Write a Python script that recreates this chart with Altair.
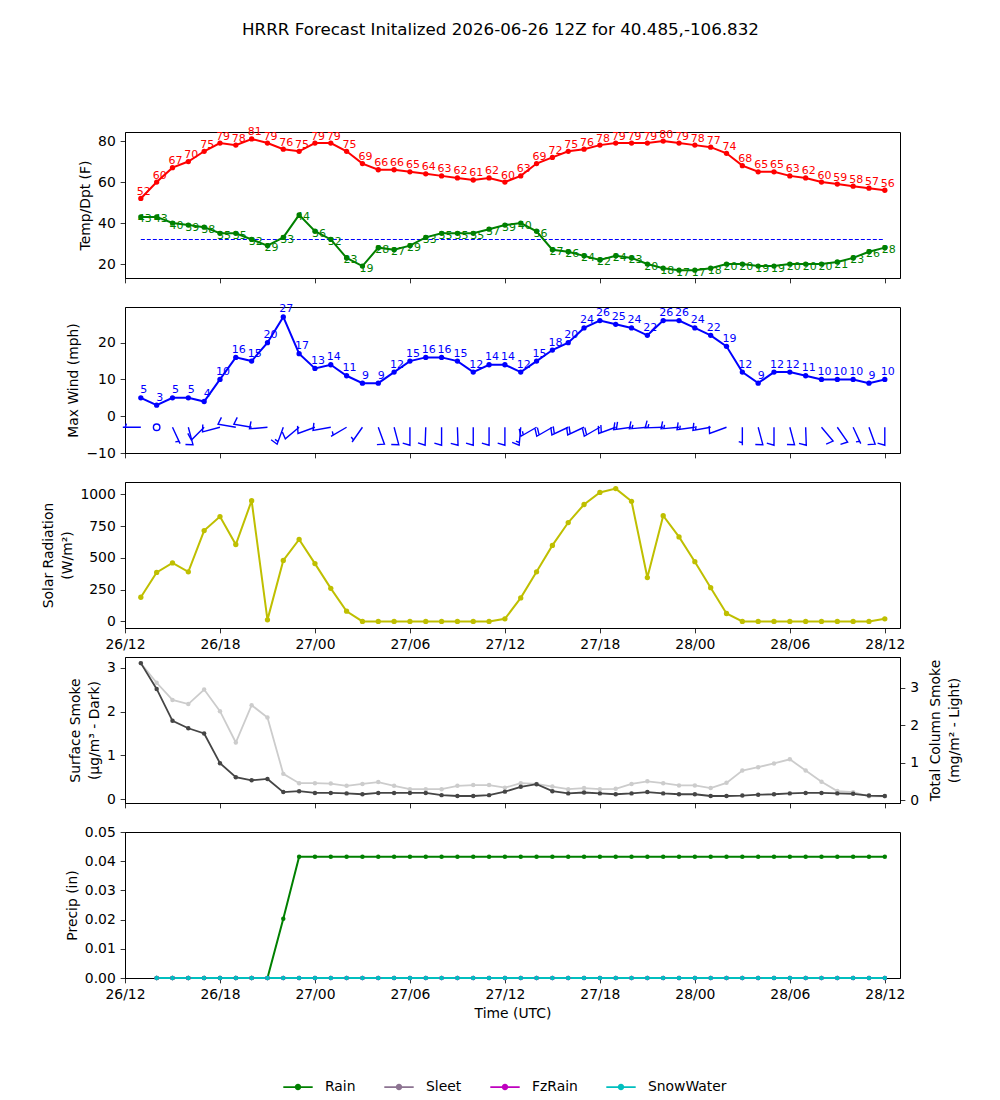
import altair as alt
import pandas as pd

TITLE = "HRRR Forecast Initalized 2026-06-26 12Z for 40.485,-106.832"
FONT = "DejaVu Sans"

# forecast hours after the 26/12 UTC initialisation
hours = list(range(1, 49))
tick_hours = [0, 6, 12, 18, 24, 30, 36, 42, 48]
tick_labels = ["26/12", "26/18", "27/00", "27/06", "27/12", "27/18", "28/00", "28/06", "28/12"]

temp_f = [52, 60, 67, 70, 75, 79, 78, 81, 79, 76, 75, 79, 79, 75, 69, 66, 66, 65, 64, 63, 62, 61, 62, 60,
          63, 69, 72, 75, 76, 78, 79, 79, 79, 80, 79, 78, 77, 74, 68, 65, 65, 63, 62, 60, 59, 58, 57, 56]
dewpt_f = [43, 43, 40, 39, 38, 35, 35, 32, 29, 33, 44, 36, 32, 23, 19, 28, 27, 29, 33, 35, 35, 35, 37, 39,
           40, 36, 27, 26, 24, 22, 24, 23, 20, 18, 17, 17, 18, 20, 20, 19, 19, 20, 20, 20, 21, 23, 26, 28]
FREEZING_F = 32

max_wind_mph = [5, 3, 5, 5, 4, 10, 16, 15, 20, 27, 17, 13, 14, 11, 9, 9, 12, 15, 16, 16, 15, 12, 14, 14,
                12, 15, 18, 20, 24, 26, 25, 24, 22, 26, 26, 24, 22, 19, 12, 9, 12, 12, 11, 10, 10, 10, 9, 10]
# wind barbs: direction the wind blows from (deg) and barb speed (kt)
barb_dir_deg = [270, 0, 155, 165, 225, 255, 280, 280, 265, 200, 230, 250, 260, 240, 215, 160, 165, 180, 182, 180,
                178, 180, 180, 180, 185, 240, 240, 245, 245, 240, 250, 262, 265, 268, 265, 262, 260, 250, 180, 165,
                180, 165, 178, 140, 145, 155, 160, 180]
barb_speed_kt = [5, 0, 5, 10, 10, 10, 10, 10, 10, 15, 10, 10, 10, 5, 5, 10, 10, 10, 10, 10, 10, 10, 10, 10,
                 15, 15, 20, 20, 20, 20, 20, 20, 15, 15, 15, 15, 15, 10, 5, 10, 10, 10, 10, 10, 10, 5, 10, 10]
BARB_ROW = -3

solar_wm2 = [190, 385, 460, 390, 715, 825, 605, 950, 12, 480, 645, 455, 260, 80, 0, 0, 0, 0, 0, 0, 0, 0, 0, 20,
             185, 390, 598, 778, 920, 1015, 1045, 945, 345, 832, 665, 470, 265, 62, 0, 0, 0, 0, 0, 0, 0, 0, 0, 20]

smoke_surface = [3.11, 2.52, 1.79, 1.62, 1.50, 0.82, 0.50, 0.43, 0.46, 0.16, 0.18, 0.14, 0.14, 0.13, 0.11, 0.14,
                 0.14, 0.14, 0.14, 0.09, 0.07, 0.07, 0.09, 0.17, 0.28, 0.34, 0.18, 0.13, 0.15, 0.13, 0.11, 0.13,
                 0.16, 0.13, 0.11, 0.11, 0.07, 0.07, 0.08, 0.10, 0.11, 0.13, 0.14, 0.14, 0.13, 0.12, 0.08, 0.07]
smoke_column = [3.66, 3.14, 2.68, 2.57, 2.96, 2.38, 1.54, 2.54, 2.21, 0.70, 0.45, 0.45, 0.44, 0.38, 0.43, 0.48,
                0.38, 0.29, 0.29, 0.29, 0.38, 0.40, 0.40, 0.33, 0.45, 0.43, 0.36, 0.29, 0.32, 0.29, 0.30, 0.43,
                0.50, 0.45, 0.39, 0.39, 0.32, 0.46, 0.79, 0.88, 0.98, 1.09, 0.79, 0.49, 0.24, 0.21, 0.10, 0.10]

precip_hours = list(range(2, 49))
rain_in = [0, 0, 0, 0, 0, 0, 0, 0, 0.0203,
           0.0415, 0.0415, 0.0415, 0.0415, 0.0415, 0.0415, 0.0415, 0.0415, 0.0415, 0.0415,
           0.0415, 0.0415, 0.0415, 0.0415, 0.0415, 0.0415, 0.0415, 0.0415, 0.0415, 0.0415,
           0.0415, 0.0415, 0.0415, 0.0415, 0.0415, 0.0415, 0.0415, 0.0415, 0.0415, 0.0415,
           0.0415, 0.0415, 0.0415, 0.0415, 0.0415, 0.0415, 0.0415, 0.0415]
sleet_in = [0, 0, 0, 0, 0, 0, 0, 0, 0, 0, 0, 0, 0, 0, 0, 0, 0, 0, 0, 0, 0, 0, 0, 0,
            0, 0, 0, 0, 0, 0, 0, 0, 0, 0, 0, 0, 0, 0, 0, 0, 0, 0, 0, 0, 0, 0, 0]
fzrain_in = [0, 0, 0, 0, 0, 0, 0, 0, 0, 0, 0, 0, 0, 0, 0, 0, 0, 0, 0, 0, 0, 0, 0, 0,
             0, 0, 0, 0, 0, 0, 0, 0, 0, 0, 0, 0, 0, 0, 0, 0, 0, 0, 0, 0, 0, 0, 0]
snowwater_in = [0, 0, 0, 0, 0, 0, 0, 0, 0, 0, 0, 0, 0, 0, 0, 0, 0, 0, 0, 0, 0, 0, 0, 0,
                0, 0, 0, 0, 0, 0, 0, 0, 0, 0, 0, 0, 0, 0, 0, 0, 0, 0, 0, 0, 0, 0, 0]
precip_types = ["Rain", "Sleet", "FzRain", "SnowWater"]
precip_colors = ["#008000", "#8c7391", "#bf00bf", "#00bfbf"]

# ---------------------------------------------------------------- layout
W, H = 775, 146
X_DOMAIN = [0, 48.96]
LABEL_EXPR = "[" + ",".join("'%s'" % t for t in tick_labels) + "][round(datum.value / 6)]"


def x_enc(show_labels=False, title=None):
    return alt.X(
        "hour:Q",
        scale=alt.Scale(domain=X_DOMAIN, nice=False, zero=False),
        axis=alt.Axis(values=tick_hours, labelExpr=LABEL_EXPR, labels=show_labels,
                      labelFlush=False, labelOverlap=False, title=title),
    )


def y_enc(field, domain, values, title, fmt="d", orient="left"):
    axis_kw = dict(values=values, title=title, orient=orient, format=fmt)
    if orient == "right":
        axis_kw["titleAngle"] = 270
    return alt.Y(field, type="quantitative",
                 scale=alt.Scale(domain=domain, nice=False, zero=False),
                 axis=alt.Axis(**axis_kw))


# ---------------------------------------------------------------- temperature
df_t = pd.DataFrame({"hour": hours, "temp": temp_f, "dewpt": dewpt_f})
df_t["freezing"] = FREEZING_F
T_DOM = [13.2, 84.4]
T_VALS = [20, 40, 60, 80]
T_TITLE = "Temp/Dpt (F)"
xt = x_enc()
bt = alt.Chart(df_t)
temp_panel = alt.layer(
    bt.mark_line(color="#0000ff", strokeWidth=1.1, strokeDash=[4, 2]).encode(
        x=xt, y=y_enc("freezing", T_DOM, T_VALS, T_TITLE)),
    bt.mark_line(color="red", strokeWidth=2).encode(x=xt, y=y_enc("temp", T_DOM, T_VALS, T_TITLE)),
    bt.mark_point(color="red", filled=True, size=28, opacity=1).encode(
        x=xt, y=y_enc("temp", T_DOM, T_VALS, T_TITLE)),
    bt.mark_text(color="red", fontSize=11, dx=3, dy=-6.5).encode(
        x=xt, y=y_enc("temp", T_DOM, T_VALS, T_TITLE), text=alt.Text("temp:Q", format="d")),
    bt.mark_line(color="green", strokeWidth=2).encode(x=xt, y=y_enc("dewpt", T_DOM, T_VALS, T_TITLE)),
    bt.mark_point(color="green", filled=True, size=28, opacity=1).encode(
        x=xt, y=y_enc("dewpt", T_DOM, T_VALS, T_TITLE)),
    bt.mark_text(color="green", fontSize=11, dx=4, dy=2.5).encode(
        x=xt, y=y_enc("dewpt", T_DOM, T_VALS, T_TITLE), text=alt.Text("dewpt:Q", format="d")),
).properties(width=W, height=H)

# ---------------------------------------------------------------- wind
BARB_GLYPHS = {
    "calm": "M0.18,0A0.18,0.18,0,1,1,-0.18,0A0.18,0.18,0,1,1,0.18,0Z",
    "5": "M0,0L0,-1M0,-0.86L0.2,-0.8",
    "10": "M0,0L0,-1L0.4,-0.88",
    "15": "M0,0L0,-1L0.4,-0.88M0,-0.85L0.2,-0.79",
    "20": "M0,0L0,-1L0.4,-0.88M0,-0.85L0.4,-0.73",
}
df_w = pd.DataFrame({"hour": hours, "wind": max_wind_mph, "barb_dir": barb_dir_deg})
df_w["barb_glyph"] = ["calm" if k == 0 else str(k) for k in barb_speed_kt]
df_w["barb_y"] = BARB_ROW
W_DOM = [-10, 29.7]
W_VALS = [-10, 0, 10, 20]
W_TITLE = "Max Wind (mph)"
xw = x_enc()
bw = alt.Chart(df_w)
wind_panel = alt.layer(
    bw.mark_line(color="blue", strokeWidth=2).encode(x=xw, y=y_enc("wind", W_DOM, W_VALS, W_TITLE)),
    bw.mark_point(color="blue", filled=True, size=28, opacity=1).encode(
        x=xw, y=y_enc("wind", W_DOM, W_VALS, W_TITLE)),
    bw.mark_text(color="blue", fontSize=11, dx=3, dy=-7.5).encode(
        x=xw, y=y_enc("wind", W_DOM, W_VALS, W_TITLE), text=alt.Text("wind:Q", format="d")),
    bw.mark_point(color="blue", filled=False, size=1300, strokeWidth=1.4, opacity=1).encode(
        x=xw, y=y_enc("barb_y", W_DOM, W_VALS, W_TITLE),
        shape=alt.Shape("barb_glyph:N",
                        scale=alt.Scale(domain=list(BARB_GLYPHS), range=list(BARB_GLYPHS.values())),
                        legend=None),
        angle=alt.Angle("barb_dir:Q", scale=None)),
).properties(width=W, height=H)

# ---------------------------------------------------------------- solar radiation
df_s = pd.DataFrame({"hour": hours, "solar": solar_wm2})
S_DOM = [-52, 1097]
S_VALS = [0, 250, 500, 750, 1000]
S_TITLE = ["Solar Radiation", "(W/m²)"]
xs = x_enc(show_labels=True)
bs = alt.Chart(df_s)
solar_panel = alt.layer(
    bs.mark_line(color="#bfbf00", strokeWidth=2).encode(x=xs, y=y_enc("solar", S_DOM, S_VALS, S_TITLE)),
    bs.mark_point(color="#bfbf00", filled=True, size=28, opacity=1).encode(
        x=xs, y=y_enc("solar", S_DOM, S_VALS, S_TITLE)),
).properties(width=W, height=H)

# ---------------------------------------------------------------- smoke
df_k = pd.DataFrame({"hour": hours, "surface": smoke_surface, "column": smoke_column})
L_DOM, L_VALS, L_TITLE = [-0.09, 3.25], [0, 1, 2, 3], ["Surface Smoke", "(µg/m³ - Dark)"]
R_DOM, R_VALS, R_TITLE = [-0.08, 3.83], [0, 1, 2, 3], ["Total Column Smoke", "(mg/m² - Light)"]
xk = x_enc()
bk = alt.Chart(df_k)
light = alt.layer(
    bk.mark_line(color="#cccccc", strokeWidth=1.8).encode(
        x=xk, y=y_enc("column", R_DOM, R_VALS, R_TITLE, orient="right")),
    bk.mark_point(color="#cccccc", filled=True, size=20, opacity=1).encode(
        x=xk, y=y_enc("column", R_DOM, R_VALS, R_TITLE, orient="right")),
)
dark = alt.layer(
    bk.mark_line(color="#454545", strokeWidth=1.8).encode(
        x=xk, y=y_enc("surface", L_DOM, L_VALS, L_TITLE)),
    bk.mark_point(color="#454545", filled=True, size=20, opacity=1).encode(
        x=xk, y=y_enc("surface", L_DOM, L_VALS, L_TITLE)),
)
smoke_panel = alt.layer(light, dark).resolve_scale(y="independent").properties(width=W, height=H)

# ---------------------------------------------------------------- precipitation
series = {"Rain": rain_in, "Sleet": sleet_in, "FzRain": fzrain_in, "SnowWater": snowwater_in}
df_p = pd.concat(
    [pd.DataFrame({"hour": precip_hours, "precip": vals, "ptype": name}) for name, vals in series.items()],
    ignore_index=True,
)
P_DOM, P_VALS, P_TITLE = [0, 0.05], [0, 0.01, 0.02, 0.03, 0.04, 0.05], "Precip (in)"
xp = x_enc(show_labels=True, title="Time (UTC)")
bp = alt.Chart(df_p)
LEGEND_GLYPH = ("M-1,-0.06L1,-0.06L1,0.06L-1,0.06Z"
                "M0.22,0A0.22,0.22,0,1,1,-0.22,0A0.22,0.22,0,1,1,0.22,0Z")
precip_lines = [
    bp.transform_filter(alt.datum.ptype == name).mark_line(color=col, strokeWidth=2).encode(
        x=xp, y=y_enc("precip", P_DOM, P_VALS, P_TITLE, fmt=".2f"))
    for name, col in zip(precip_types, precip_colors)
]
# legend is laid out relative to the top of the first panel
precip_points = bp.mark_point(filled=True, size=20, opacity=1).encode(
    x=xp, y=y_enc("precip", P_DOM, P_VALS, P_TITLE, fmt=".2f"),
    fill=alt.Fill("ptype:N", sort=precip_types,
                  scale=alt.Scale(domain=precip_types, range=precip_colors),
                  legend=alt.Legend(orient="none", legendX=158, legendY=940, direction="horizontal",
                                    title=None, symbolType=LEGEND_GLYPH, symbolSize=864,
                                    symbolStrokeWidth=0, labelFontSize=13.9, labelOffset=12,
                                    columnPadding=28, padding=0, labelColor="black", labelFont=FONT)),
)
precip_panel = alt.layer(*precip_lines, precip_points).properties(width=W, height=H)

# ---------------------------------------------------------------- assemble
chart = alt.vconcat(
    temp_panel, wind_panel, solar_panel, smoke_panel, precip_panel, spacing=29, bounds="flush"
).properties(
    title=alt.TitleParams(TITLE, anchor="middle", frame="group", offset=87, dx=-12),
    padding={"left": 41, "top": 22, "right": 5, "bottom": 5},
    background="white",
).configure_view(
    stroke="black", strokeWidth=1
).configure_axis(
    labelFont=FONT, titleFont=FONT, labelFontSize=13.9, titleFontSize=13.9,
    labelColor="black", titleColor="black", titleFontWeight="normal",
    tickColor="black", domainColor="black", tickSize=4.86, tickWidth=0.8, domainWidth=0.8,
    labelPadding=4.86, titlePadding=5, titleLineHeight=19, grid=False,
).configure_title(
    font=FONT, fontSize=16.7, fontWeight="normal", color="black"
).configure_text(font=FONT)

chart.save("out.html", embed_options={"renderer": "svg", "actions": False})
